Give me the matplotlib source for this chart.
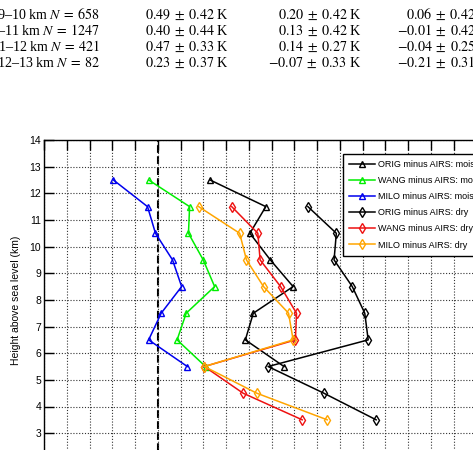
import matplotlib
matplotlib.use('Agg')
import matplotlib.pyplot as plt
import numpy as np

plt.rcParams['mathtext.fontset'] = 'stix'

# table fragment above the figure
table_rows = [r'9–10 km $N\:=\:658$', r'10–11 km $N\:=\:1247$', r'11–12 km $N\:=\:421$', r'12–13 km $N\:=\:82$']
col2 = [r'$0.49\;\pm\;0.42$ K', r'$0.40\;\pm\;0.44$ K', r'$0.47\;\pm\;0.33$ K', r'$0.23\;\pm\;0.37$ K']
col3 = [r'$0.20\;\pm\;0.42$ K', r'$0.13\;\pm\;0.42$ K', r'$0.14\;\pm\;0.27$ K', r'$-0.07\;\pm\;0.33$ K']
col4 = [r'$0.06\;\pm\;0.42$ K', r'$-0.01\;\pm\;0.42$ K', r'$-0.04\;\pm\;0.25$ K', r'$-0.21\;\pm\;0.31$ K']

# profiles (K) vs height (km)
h_moist = [12.5, 11.5, 10.5, 9.5, 8.5, 7.5, 6.5, 5.5]
h_dry = [11.5, 10.5, 9.5, 8.5, 7.5, 6.5, 5.5, 4.5, 3.5]
orig_moist = [0.46, 0.95, 0.81, 0.99, 1.19, 0.84, 0.77, 1.11]
wang_moist = [-0.08, 0.28, 0.27, 0.40, 0.50, 0.25, 0.17, 0.42]
milo_moist = [-0.39, -0.09, -0.02, 0.13, 0.21, 0.03, -0.08, 0.26]
orig_dry = [1.32, 1.57, 1.55, 1.71, 1.82, 1.85, 0.97, 1.46, 1.92]
wang_dry = [0.65, 0.88, 0.90, 1.08, 1.22, 1.21, 0.41, 0.75, 1.27]
milo_dry = [0.36, 0.72, 0.78, 0.93, 1.15, 1.19, 0.41, 0.87, 1.49]

y_ticks = np.arange(2, 15, 1)
y_ticklabels = [''] + [str(v) for v in y_ticks[1:]]

fig = plt.figure(figsize=(4.73, 4.5), dpi=100)

serif = ['Liberation Serif', 'DejaVu Serif']
for i in range(4):
    y = 1 - (19.2 + i * 15.8) / 450
    fig.text(100 / 473, y, table_rows[i], ha='right', va='baseline', fontsize=10.1, family=serif)
    fig.text(228.5 / 473, y, col2[i], ha='right', va='baseline', fontsize=10.1, family=serif)
    fig.text(361.5 / 473, y, col3[i], ha='right', va='baseline', fontsize=10.1, family=serif)
    fig.text(490 / 473, y, col4[i], ha='right', va='baseline', fontsize=10.1, family=serif)

ax = fig.add_axes([44 / 473, (450 - 459.8) / 450, (499 - 44) / 473, (459.8 - 140) / 450])

lw = 1.1
ms = 5
ax.plot(orig_moist, h_moist, '-^', color='black', lw=lw, ms=ms, mfc='none', label='ORIG minus AIRS: moist')
ax.plot(wang_moist, h_moist, '-^', color='#00ee00', lw=lw, ms=ms, mfc='none', label='WANG minus AIRS: moist')
ax.plot(milo_moist, h_moist, '-^', color='#0000ee', lw=lw, ms=ms, mfc='none', label='MILO minus AIRS: moist')
ax.plot(orig_dry, h_dry, '-d', color='black', lw=lw, ms=ms, mfc='none', label='ORIG minus AIRS: dry')
ax.plot(wang_dry, h_dry, '-d', color='#ee1111', lw=lw, ms=ms, mfc='none', label='WANG minus AIRS: dry')
ax.plot(milo_dry, h_dry, '-d', color='#ffa500', lw=lw, ms=ms, mfc='none', label='MILO minus AIRS: dry')

ax.axvline(0, color='black', ls='--', lw=1.5, zorder=1)

ax.set_xlim(-1, 3)
ax.set_ylim(2, 14)
ax.set_xticks(np.arange(-1, 3.01, 0.2))
ax.set_xticklabels([])
ax.set_yticks(y_ticks)
ax.set_yticklabels(y_ticklabels, family='Liberation Sans')
ax.grid(True, color='#333333', linestyle=(0, (1, 1.6)), linewidth=0.8)
ax.tick_params(direction='in', length=7, width=1, top=True, right=True, labelsize=7.5, pad=2)
ax.set_ylabel('Height above sea level (km)', fontsize=7.5, family=['Liberation Sans'], labelpad=6)
for s in ax.spines.values():
    s.set_linewidth(1)

leg = fig.legend(loc='upper left', bbox_to_anchor=(343 / 473, 1 - 154 / 450), borderaxespad=0,
                 labelspacing=0.78, handlelength=2.8, handletextpad=0.4,
                 borderpad=0.7, fancybox=False, edgecolor='black', framealpha=1,
                 prop={'family': 'Liberation Sans', 'size': 6.5})
leg.get_frame().set_linewidth(1)

fig.savefig('out.png', dpi=100)
